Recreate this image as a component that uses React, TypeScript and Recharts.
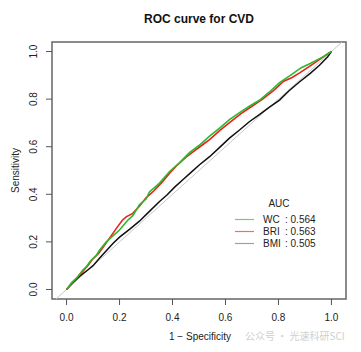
import { LineChart, Line, XAxis, YAxis, ReferenceLine, ReferenceArea } from 'recharts';

// ROC points: [1 - specificity, sensitivity]
const wcPoints: [number, number][] = [
  [0, 0], [0.02, 0.03], [0.04, 0.05], [0.06, 0.08], [0.074, 0.095], [0.09, 0.12], [0.11, 0.14],
  [0.125, 0.166], [0.15, 0.2], [0.175, 0.225], [0.2, 0.25], [0.23, 0.29], [0.25, 0.31], [0.275, 0.356],
  [0.3, 0.38], [0.313, 0.41], [0.351, 0.447], [0.389, 0.496], [0.426, 0.532], [0.464, 0.575],
  [0.5, 0.605], [0.54, 0.644], [0.58, 0.68], [0.615, 0.714], [0.653, 0.743], [0.69, 0.77],
  [0.728, 0.795], [0.766, 0.83], [0.804, 0.869], [0.845, 0.9], [0.886, 0.932], [0.92, 0.95],
  [0.955, 0.97], [0.98, 0.985], [1, 1],
];
const briPoints: [number, number][] = [
  [0, 0], [0.02, 0.025], [0.04, 0.05], [0.06, 0.075], [0.08, 0.1], [0.1, 0.13], [0.12, 0.15],
  [0.14, 0.18], [0.165, 0.22], [0.19, 0.26], [0.21, 0.29], [0.225, 0.305], [0.25, 0.32], [0.275, 0.35],
  [0.3, 0.385], [0.33, 0.415], [0.36, 0.45], [0.39, 0.49], [0.42, 0.525], [0.45, 0.555], [0.48, 0.58],
  [0.51, 0.605], [0.54, 0.63], [0.58, 0.67], [0.62, 0.705], [0.66, 0.74], [0.7, 0.77], [0.74, 0.8],
  [0.78, 0.835], [0.82, 0.875], [0.85, 0.89], [0.88, 0.91], [0.92, 0.94], [0.96, 0.97], [0.985, 0.99], [1, 1],
];
const bmiPoints: [number, number][] = [
  [0, 0], [0.02, 0.024], [0.05, 0.056], [0.08, 0.082], [0.1, 0.1], [0.125, 0.132], [0.15, 0.163],
  [0.175, 0.193], [0.2, 0.22], [0.24, 0.255], [0.275, 0.287], [0.31, 0.325], [0.351, 0.37],
  [0.38, 0.398], [0.408, 0.43], [0.44, 0.462], [0.47, 0.492], [0.502, 0.524], [0.54, 0.558],
  [0.577, 0.596], [0.615, 0.636], [0.653, 0.67], [0.69, 0.705], [0.728, 0.735], [0.766, 0.766],
  [0.804, 0.796], [0.84, 0.835], [0.879, 0.872], [0.92, 0.908], [0.955, 0.942], [0.986, 0.978], [1, 1],
];

const ticks = [0, 0.2, 0.4, 0.6, 0.8, 1.0];
const xDomain: [number, number] = [-0.055, 1.055];
const yDomain: [number, number] = [-0.04, 1.04];

const legendItems = [
  { name: 'WC', auc: '0.564', color: '#70d070' },
  { name: 'BRI', auc: '0.563', color: '#e87070' },
  { name: 'BMI', auc: '0.505', color: '#a0a0a0' },
];

const FONT = '"Liberation Sans", Arial, Helvetica, sans-serif';

const toRows = (pts: [number, number][]) => pts.map(([x, y]) => ({ x, y }));

const YTick = (props: any) => {
  const { x, y, payload } = props;
  return (
    <text
      x={x - 7}
      y={y}
      transform={`rotate(-90 ${x - 7} ${y})`}
      textAnchor="middle"
      fontSize={10}
      fontFamily={FONT}
      fill="#222"
    >
      {payload.value.toFixed(1)}
    </text>
  );
};

const XTick = (props: any) => {
  const { x, y, payload } = props;
  return (
    <text x={x} y={y} dy="0.71em" textAnchor="middle" fontSize={10} fontFamily={FONT} fill="#222">
      {payload.value.toFixed(1)}
    </text>
  );
};

export default function App() {
  return (
    <div style={{ position: 'absolute', left: 0, top: 0, width: 361, height: 352, background: '#fff' }}>
      <LineChart width={361} height={352} margin={{ top: 42, right: 15, bottom: 23, left: 22 }}>
        <XAxis
          type="number"
          dataKey="x"
          domain={xDomain}
          ticks={ticks}
          allowDataOverflow
          axisLine={false}
          tickSize={6}
          tickMargin={9}
          tickLine={{ stroke: '#555' }}
          tick={<XTick />}
          height={30}
        />
        <YAxis
          type="number"
          dataKey="y"
          domain={yDomain}
          ticks={ticks}
          allowDataOverflow
          axisLine={false}
          tickSize={6}
          tickMargin={2}
          tickLine={{ stroke: '#555' }}
          tick={<YTick />}
          width={30}
        />
        <ReferenceLine
          segment={[{ x: yDomain[0], y: yDomain[0] }, { x: yDomain[1], y: yDomain[1] }]}
          stroke="#c8c8c8"
          strokeWidth={1}
          ifOverflow="visible"
        />
        <Line data={toRows(bmiPoints)} dataKey="y" type="linear" stroke="#111" strokeWidth={1.5} dot={false} isAnimationActive={false} />
        <Line data={toRows(briPoints)} dataKey="y" type="linear" stroke="#e8201c" strokeWidth={1.6} dot={false} isAnimationActive={false} />
        <Line data={toRows(wcPoints)} dataKey="y" type="linear" stroke="#2cb82c" strokeWidth={1.6} dot={false} isAnimationActive={false} />
        <ReferenceArea
          x1={xDomain[0]}
          x2={xDomain[1]}
          y1={yDomain[0]}
          y2={yDomain[1]}
          fill="none"
          stroke="#666"
          strokeWidth={1.5}
          ifOverflow="visible"
        />
      </LineChart>
      <svg width={361} height={352} style={{ position: 'absolute', left: 0, top: 0, pointerEvents: 'none' }}>
        <text x={199} y={23} textAnchor="middle" fontSize={12} fontWeight="bold" fontFamily={FONT} fill="#111">
          ROC curve for CVD
        </text>
        <text x={19} y={170.5} transform="rotate(-90 19 170.5)" textAnchor="middle" fontSize={10} fontFamily={FONT} fill="#222">
          Sensitivity
        </text>
        <text x={200} y={340} textAnchor="middle" fontSize={10} fontFamily={FONT} fill="#222">
          1 − Specificity
        </text>
        <text x={279} y={207} textAnchor="middle" fontSize={10} fontFamily={FONT} fill="#222">
          AUC
        </text>
        {legendItems.map((item, i) => {
          const cy = 219.5 + i * 12;
          return (
            <g key={item.name}>
              <line x1={235} x2={254} y1={cy} y2={cy} stroke={item.color} strokeWidth={1.2} />
              <text x={263} y={cy + 3.6} fontSize={10} fontFamily={FONT} fill="#222">
                {item.name}
              </text>
              <text x={285} y={cy + 3.6} fontSize={10} fontFamily={FONT} fill="#222">
                : {item.auc}
              </text>
            </g>
          );
        })}
        <text x={245} y={340} fontSize={10} fontFamily='"Noto Sans CJK SC", sans-serif' fill="#bbb" opacity={0.7}>
          公众号 · 光速科研SCI
        </text>
      </svg>
    </div>
  );
}
